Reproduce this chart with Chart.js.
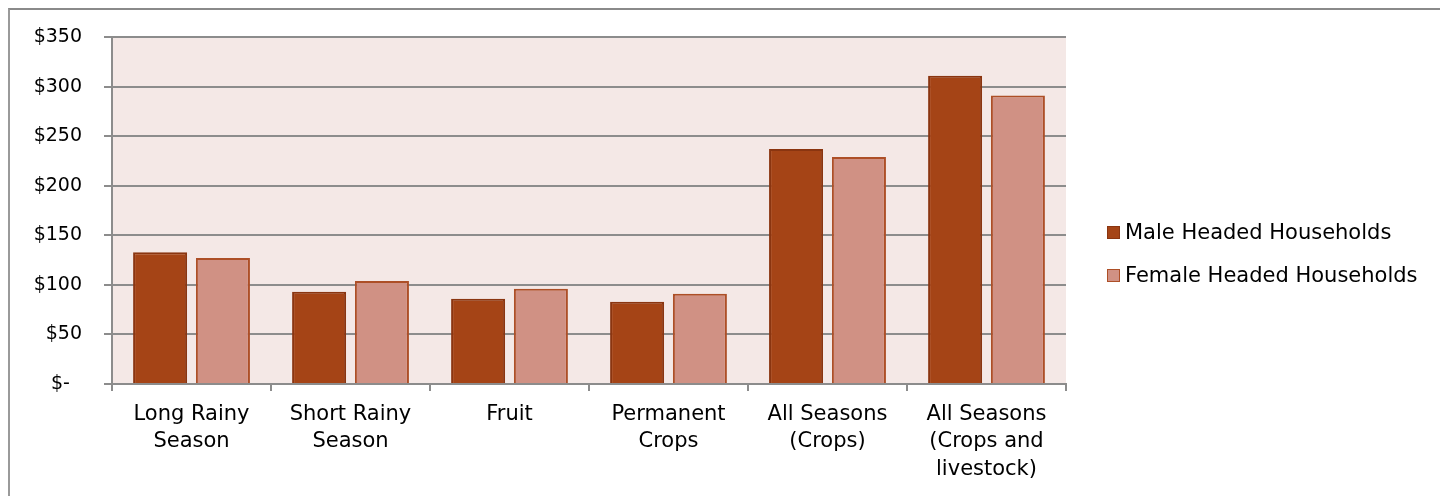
<!DOCTYPE html>
<html>
<head>
<meta charset="utf-8">
<script src="https://cdn.jsdelivr.net/npm/chart.js@4.4.1/dist/chart.umd.min.js"></script>
<style>
  html, body { margin: 0; padding: 0; background: #ffffff; }
  #wrap { position: relative; width: 1440px; height: 496px; overflow: hidden; }
  #frame {
    position: absolute; left: 8px; top: 8px; width: 1500px; height: 600px;
    border-left: 2px solid #9a9a9a; border-top: 2px solid #8a8a8a;
  }
  #chart { position: absolute; left: 0; top: 0; }
  #legend {
    position: absolute; left: 1107px; top: 218px;
    font-family: 'DejaVu Sans', sans-serif; font-size: 21px; color: #000;
  }
  .item { display: flex; align-items: center; height: 28px; margin-bottom: 15px; white-space: nowrap; }
  .swatch { width: 11px; height: 11px; border: 1px solid; margin-right: 5px; flex: none; }
</style>
</head>
<body>
<div id="wrap">
  <div id="frame"></div>
  <canvas id="chart" width="1440" height="496"></canvas>
  <div id="legend"></div>
</div>
<script>
const categories = [
  ['Long Rainy', 'Season'],
  ['Short Rainy', 'Season'],
  ['Fruit'],
  ['Permanent', 'Crops'],
  ['All Seasons', '(Crops)'],
  ['All Seasons', '(Crops and', 'livestock)'],
];
const maleValues = [133, 93, 86, 83, 237, 311];
const femaleValues = [127, 104, 96, 91, 229, 291];
const seriesNames = ['Male Headed Households', 'Female Headed Households'];

const FONT = 'DejaVu Sans';
const GRID = '#8c8c8c';

// paint the plot area background
const plotBg = {
  id: 'plotBg',
  beforeDraw(chart) {
    const a = chart.chartArea;
    const ctx = chart.ctx;
    ctx.save();
    ctx.fillStyle = '#f4e8e6';
    ctx.fillRect(a.left, a.top, a.right - a.left, a.bottom - a.top);
    ctx.restore();
  }
};

const ctx = document.getElementById('chart').getContext('2d');
const chart = new Chart(ctx, {
  type: 'bar',
  data: {
    labels: categories,
    datasets: [
      {
        label: seriesNames[0],
        data: maleValues,
        backgroundColor: '#a54416',
        borderColor: '#8a3510',
        borderWidth: 2,
      },
      {
        label: seriesNames[1],
        data: femaleValues,
        backgroundColor: '#d09184',
        borderColor: '#ad4f27',
        borderWidth: 2,
      },
    ],
  },
  options: {
    responsive: false,
    animation: false,
    categoryPercentage: 0.79,
    barPercentage: 0.86,
    layout: { padding: { left: 20, top: 37, right: 374, bottom: 0 } },
    plugins: {
      tooltip: { enabled: false },
      legend: { display: false },
    },
    scales: {
      x: {
        grid: {
          display: true,
          drawOnChartArea: false,
          drawTicks: true,
          tickLength: 7,
          color: GRID,
          lineWidth: 2,
        },
        border: { display: true, color: GRID, width: 2 },
        ticks: {
          color: '#000',
          font: { family: FONT, size: 21, lineHeight: 1.3 },
          maxRotation: 0,
          autoSkip: false,
          padding: 10,
        },
        afterFit(scale) { scale.height = 112; },
      },
      y: {
        min: 0,
        max: 350,
        ticks: {
          stepSize: 50,
          color: '#000',
          font: { family: FONT, size: 19 },
          padding: 22,
          // accounting style: zero shows as a dash
          callback: v => (v === 0 ? '$-  ' : '$' + v),
        },
        grid: { color: GRID, lineWidth: 2, tickLength: 8 },
        border: { display: true, color: GRID, width: 2 },
        afterFit(scale) { scale.width = 92; },
      },
    },
  },
  plugins: [plotBg],
});

// legend as html, built from the datasets
const legendEl = document.getElementById('legend');
chart.data.datasets.forEach(ds => {
  const item = document.createElement('div');
  item.className = 'item';
  const sw = document.createElement('span');
  sw.className = 'swatch';
  sw.style.background = ds.backgroundColor;
  sw.style.borderColor = ds.borderColor;
  const txt = document.createElement('span');
  txt.textContent = ds.label;
  item.appendChild(sw);
  item.appendChild(txt);
  legendEl.appendChild(item);
});
</script>
</body>
</html>
